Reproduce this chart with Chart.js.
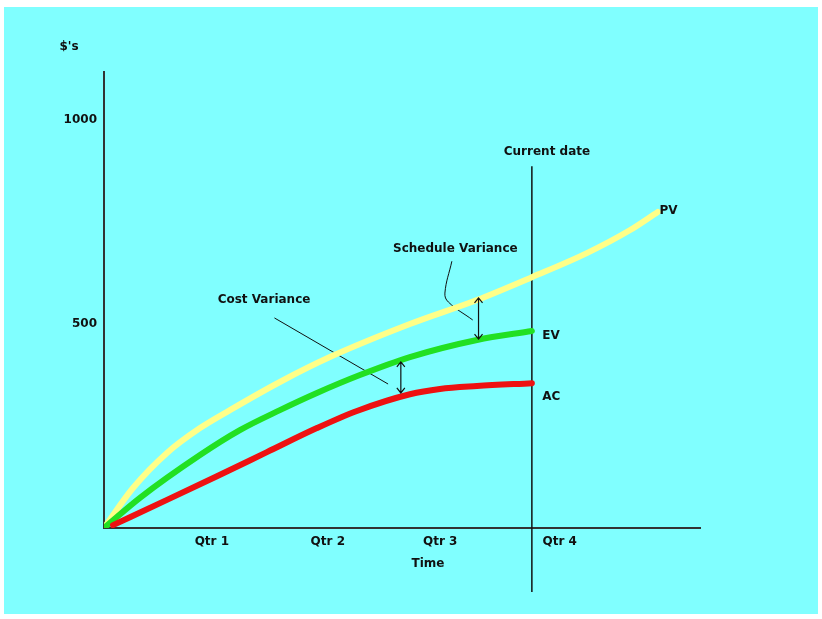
<!DOCTYPE html>
<html>
<head>
<meta charset="utf-8">
<script src="https://cdn.jsdelivr.net/npm/chart.js@4.4.1/dist/chart.umd.min.js"></script>
<style>
    html, body { margin: 0; padding: 0; background: #fff; }
    #evChart { display: block; }
</style>
</head>
<body>
<canvas id="evChart" width="822" height="619"></canvas>
<script>
// Time is in quarters from project start, values in $'s
const qtrTicks  = [0.93, 1.93, 2.9, 3.93];
const qtrLabels = ['Qtr 1', 'Qtr 2', 'Qtr 3', 'Qtr 4'];
const yTicks    = [500, 1000];

const pvTime  = [0, 0.25, 0.543, 0.828, 1.086, 1.517, 1.948, 2.638, 3.216, 3.69, 4.164, 4.534, 4.776];
const pvValue = [0, 98, 184, 245, 289, 358, 419, 500, 559, 615, 674, 730, 775];

const evTime  = [0, 0.31, 0.828, 1.172, 1.517, 1.836, 2.207, 2.638, 3.216, 3.69];
const evValue = [0, 74, 179, 240, 289, 331, 375, 419, 461, 483];

const acTime  = [0.078, 0.543, 0.974, 1.405, 1.836, 2.181, 2.638, 2.897, 3.216, 3.69];
const acValue = [7, 69, 127, 186, 245, 287, 328, 341, 348, 355];

const currentDate = 3.69;
const currentLineRange = [-157, 887];

// double arrows: [time, from, to]
const svArrow = [3.23, 564, 463];
const cvArrow = [2.56, 407, 331];

// leader lines from the notes to the arrows
const cvLeaderTime  = [1.47, 2.45];
const cvLeaderValue = [515, 353];
const svLeaderTime  = [3.0, 2.94, 2.97, 3.18];
const svLeaderValue = [654, 576, 554, 510];

// text notes placed in chart units
const noteText  = ['Current date', 'Schedule Variance', 'Cost Variance', 'PV', 'EV', 'AC'];
const noteTime  = [3.82, 3.03, 1.38, 4.79, 3.78, 3.78];
const noteValue = [922, 684, 559, 777, 471, 321];
const noteAlign = ['center', 'center', 'center', 'left', 'left', 'left'];

function toPoints(xs, ys) {
    return xs.map((x, i) => ({ x: x, y: ys[i] }));
}

const FONT = '"DejaVu Sans", Verdana, sans-serif';
Chart.defaults.font.family = FONT;
Chart.defaults.font.size = 12;
Chart.defaults.font.weight = 'bold';
Chart.defaults.color = '#111';

const backgroundPlugin = {
    id: 'background',
    beforeDraw(chart) {
        const c = chart.ctx;
        c.save();
        c.fillStyle = '#ffffff';
        c.fillRect(0, 0, chart.width, chart.height);
        c.fillStyle = '#80ffff';
        c.fillRect(4, 7, 814, 607);
        c.restore();
    }
};

function drawArrow(c, x, y1, y2) {
    const head = 5;
    c.beginPath();
    c.moveTo(x, y1);
    c.lineTo(x, y2);
    c.moveTo(x - 4, y1 + head);
    c.lineTo(x, y1);
    c.lineTo(x + 4, y1 + head);
    c.moveTo(x - 4, y2 - head);
    c.lineTo(x, y2);
    c.lineTo(x + 4, y2 - head);
    c.stroke();
}

const notesPlugin = {
    id: 'notes',
    afterDatasetsDraw(chart) {
        const c = chart.ctx;
        const xs = chart.scales.x;
        const ys = chart.scales.y;
        const area = chart.chartArea;
        c.save();
        c.strokeStyle = '#111';
        c.lineWidth = 1.2;
        [svArrow, cvArrow].forEach(a => {
            const top = ys.getPixelForValue(a[1]);
            const bottom = ys.getPixelForValue(a[2]);
            drawArrow(c, xs.getPixelForValue(a[0]), top, bottom);
        });

        c.fillStyle = '#111';
        c.font = 'bold 12px ' + FONT;
        c.textBaseline = 'middle';
        noteText.forEach((t, i) => {
            c.textAlign = noteAlign[i];
            c.fillText(t, xs.getPixelForValue(noteTime[i]), ys.getPixelForValue(noteValue[i]));
        });

        // axis captions
        c.textAlign = 'center';
        c.fillText("$'s", area.left - 35, area.top - 25);
        c.fillText('Time', area.left + 324, area.bottom + 36);
        c.restore();
    }
};

const ctx = document.getElementById('evChart').getContext('2d');
new Chart(ctx, {
    type: 'line',
    data: {
        datasets: [
            {
                label: 'AC',
                data: toPoints(acTime, acValue),
                borderColor: '#ee1111',
                borderWidth: 6,
                pointRadius: 0,
                cubicInterpolationMode: 'monotone',
                borderCapStyle: 'round',
                order: 0
            },
            {
                label: 'EV',
                data: toPoints(evTime, evValue),
                borderColor: '#22e022',
                borderWidth: 6,
                pointRadius: 0,
                cubicInterpolationMode: 'monotone',
                borderCapStyle: 'round',
                order: 1
            },
            {
                label: 'PV',
                data: toPoints(pvTime, pvValue),
                borderColor: '#ffff88',
                borderWidth: 6,
                pointRadius: 0,
                cubicInterpolationMode: 'monotone',
                borderCapStyle: 'round',
                order: 2
            },
            {
                label: 'Current date',
                data: toPoints([currentDate, currentDate], currentLineRange),
                borderColor: '#111',
                borderWidth: 1.5,
                pointRadius: 0,
                clip: false,
                order: 3
            },
            {
                label: 'Cost Variance leader',
                data: toPoints(cvLeaderTime, cvLeaderValue),
                borderColor: '#111',
                borderWidth: 1,
                pointRadius: 0,
                order: 4
            },
            {
                label: 'Schedule Variance leader',
                data: toPoints(svLeaderTime, svLeaderValue),
                borderColor: '#111',
                borderWidth: 1,
                pointRadius: 0,
                tension: 0.4,
                order: 5
            }
        ]
    },
    options: {
        responsive: false,
        animation: false,
        devicePixelRatio: 1,
        layout: { padding: { left: 54, top: 72, right: 122, bottom: 61 } },
        plugins: {
            legend: { display: false },
            tooltip: { enabled: false }
        },
        scales: {
            x: {
                type: 'linear',
                min: 0,
                max: 5.14,
                grid: { display: false, drawTicks: false },
                border: { color: '#333', width: 2 },
                afterBuildTicks: scale => { scale.ticks = qtrTicks.map(v => ({ value: v })); },
                afterFit: scale => { scale.height = 30; },
                ticks: {
                    autoSkip: false,
                    maxRotation: 0,
                    padding: 7,
                    callback: (value, index) => qtrLabels[index]
                }
            },
            y: {
                type: 'linear',
                min: 0,
                max: 1118,
                grid: { display: false, drawTicks: false },
                border: { color: '#333', width: 2 },
                afterBuildTicks: scale => { scale.ticks = yTicks.map(v => ({ value: v })); },
                afterFit: scale => { scale.width = 50; },
                ticks: {
                    padding: 7,
                    callback: value => String(value)
                }
            }
        }
    },
    plugins: [backgroundPlugin, notesPlugin]
});
</script>
</body>
</html>
